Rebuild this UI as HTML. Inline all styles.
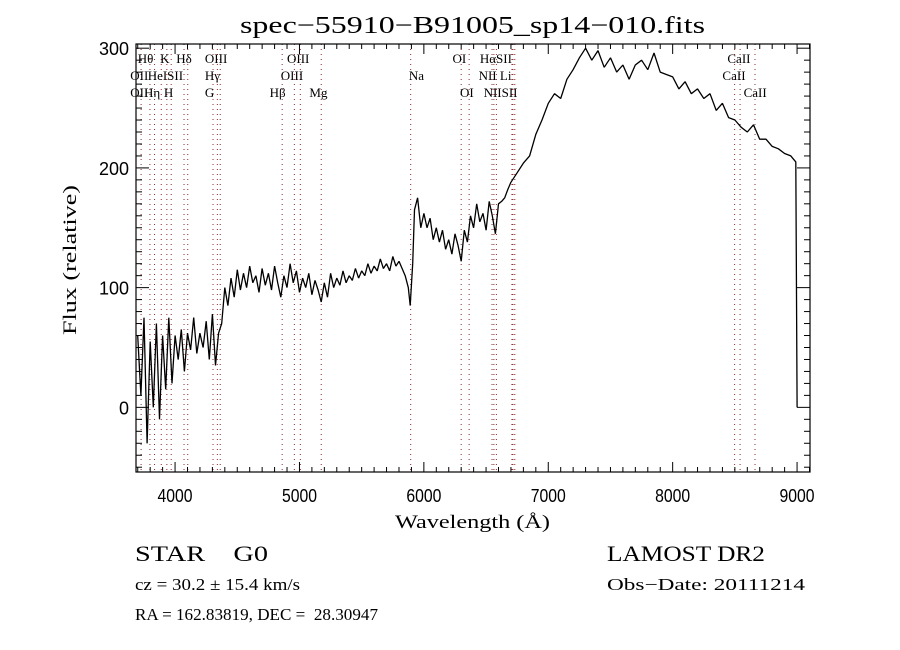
<!DOCTYPE html>
<html><head><meta charset="utf-8"><style>
body{margin:0;background:#fff;}
svg{display:block;font-family:"Liberation Serif",serif;}
svg text{white-space:pre;}
</style></head><body>
<svg id="chart" width="900" height="650" viewBox="0 0 900 650" xmlns="http://www.w3.org/2000/svg">
<rect width="900" height="650" fill="#fff"/>
<text x="240" y="33" font-size="24" textLength="465" lengthAdjust="spacingAndGlyphs">spec−55910−B91005_sp14−010.fits</text>
<text transform="translate(76,335) rotate(-90)" font-size="19" textLength="150" lengthAdjust="spacingAndGlyphs">Flux (relative)</text>
<text x="395" y="528" font-size="19" textLength="155" lengthAdjust="spacingAndGlyphs">Wavelength (Å)</text>
<text x="135" y="561" font-size="22" textLength="133" lengthAdjust="spacingAndGlyphs">STAR    G0</text>
<text x="607" y="561" font-size="22" textLength="158" lengthAdjust="spacingAndGlyphs">LAMOST DR2</text>
<text x="135" y="590" font-size="17" textLength="165" lengthAdjust="spacingAndGlyphs">cz = 30.2 ± 15.4 km/s</text>
<text x="607" y="590" font-size="17" textLength="198" lengthAdjust="spacingAndGlyphs">Obs−Date: 20111214</text>
<text x="135" y="620" font-size="17" textLength="243" lengthAdjust="spacingAndGlyphs">RA = 162.83819, DEC =  28.30947</text>
<g id="lines"></g>
<g id="ticks"></g>
<path id="spec" fill="none" stroke="#000" stroke-width="1.3" stroke-linejoin="bevel"/>
<rect x="136" y="44" width="674" height="428" fill="none" stroke="#000" stroke-width="1.2"/>
</svg>
<script>
const waves=[3700,3725,3750,3775,3800,3825,3850,3875,3900,3925,3950,3975,4000,4025,4050,4075,4100,4125,4150,4175,4200,4225,4250,4275,4300,4325,4350,4375,
4400,4425,4450,4475,4500,4525,4550,4575,4600,4625,4650,4675,4700,4725,4750,4775,4800,4825,4850,4875,4900,4925,4950,4975,5000,5025,5050,5075,5100,5125,5150,5175,5200,5225,5250,5275,5300,5325,5350,5375,5400,5425,5450,5475,5500,5525,5550,5575,5600,5625,5650,5675,5700,5725,5750,5775,5800,5825,5850,5875,5890,5910,5925,5950,5975,6000,6025,6050,6075,6100,6125,6150,6175,6200,6225,6250,6275,6300,6325,6350,6375,6400,6425,6450,6475,6500,6525,6550,6575,6600,6625,6650,6675,6700,
6750,6800,6850,6900,6950,7000,7050,7100,7150,7200,7250,7300,7350,7400,7450,7500,7550,7600,7650,7700,7750,7800,7850,7900,7950,8000,8050,8100,8150,8200,8250,8300,8350,8400,8450,8500,8550,8600,8650,8700,8750,8800,8850,8900,8950,8990,9000];
const flux=[60,10,75,-30,55,0,70,-10,60,15,75,20,60,40,65,30,62,48,75,45,62,50,72,40,78,35,62,70,
100,85,108,92,115,98,112,100,118,104,110,96,116,102,112,98,118,104,92,110,100,120,104,114,96,108,100,112,94,106,98,88,104,92,112,100,108,102,114,104,110,106,116,108,114,110,120,112,118,114,124,116,120,114,126,118,122,116,110,100,85,120,165,175,150,162,150,158,140,150,138,148,132,140,128,145,135,122,148,138,160,150,170,155,162,148,172,160,145,170,172,175,182,188,
196,204,210,228,240,254,262,258,274,282,292,300,290,298,284,292,280,286,274,286,290,282,296,280,278,276,266,272,262,266,258,262,248,254,242,240,234,230,236,224,224,218,216,212,210,205,0];
const lineWaves=[3727,3798,3835,3889,3934,3969,4072,4102,4305,4340,4363,4861,4959,5007,5175,5894,6300,6364,6548,6563,6583,6708,6716,6731,8498,8542,8662];
const labelTexts=["Hθ","K","Hδ","OIII","OIII","OI","HαSII","CaII","OII","HeISII","Hγ","OIII","Na","NII Li","CaII","OII","Hη","H","G","Hβ","Mg","OI","NIISII","CaII"];
const labelWaves=[3700,3880,4010,4240,4900,6230,6450,8440,3640,3780,4240,4850,5880,6440,8400,3640,3750,3910,4240,4760,5080,6290,6480,8570];
const labelRows=[1,1,1,1,1,1,1,1,2,2,2,2,2,2,2,3,3,3,3,3,3,3,3,3];
const xTicks=[4000,5000,6000,7000,8000,9000];
const yTicks=[0,100,200,300];
const X0=136,X1=810,Y0=472,Y1=44,WMIN=3686,WMAX=9104,FMIN=-54,FMAX=303.5;
const sx=w=>X0+(w-WMIN)/(WMAX-WMIN)*(X1-X0);
const sy=f=>Y0-(f-FMIN)/(FMAX-FMIN)*(Y0-Y1);
const NS="http://www.w3.org/2000/svg";
function mk(tag,attrs,parent){const e=document.createElementNS(NS,tag);for(const k in attrs)e.setAttribute(k,attrs[k]);parent.appendChild(e);return e;}
let d="";waves.forEach((w,i)=>{d+=(i?"L":"M")+sx(w).toFixed(1)+","+sy(flux[i]).toFixed(1);});
document.getElementById('spec').setAttribute('d',d);
const lg=document.getElementById('lines');
lineWaves.forEach(w=>{const l=mk('line',{x1:sx(w),x2:sx(w),y1:Y1,y2:Y0,stroke:'#8b2a2a','stroke-width':1,'stroke-dasharray':'1,4'},lg);

});
labelTexts.forEach((t,i)=>{const e=mk('text',{x:sx(labelWaves[i]),y:63+(labelRows[i]-1)*17,'font-size':13},lg);e.textContent=t;

});
const tg=document.getElementById('ticks');
for(let w=3700;w<=9100;w+=100){const maj=w%1000===0;const L=maj?10:5;
mk('line',{x1:sx(w),x2:sx(w),y1:Y0,y2:Y0-L,stroke:'#000'},tg);
mk('line',{x1:sx(w),x2:sx(w),y1:Y1,y2:Y1+L,stroke:'#000'},tg);}
for(let f=-50;f<=300;f+=10){const maj=f%100===0;const L=maj?13:6;
mk('line',{y1:sy(f),y2:sy(f),x1:X0,x2:X0+L,stroke:'#000'},tg);
mk('line',{y1:sy(f),y2:sy(f),x1:X1,x2:X1-L,stroke:'#000'},tg);}
xTicks.forEach(v=>{const e=mk('text',{x:sx(v),y:502,'font-size':18,'text-anchor':'middle','font-family':'Liberation Sans',textLength:35,lengthAdjust:'spacingAndGlyphs'},tg);e.textContent=v;

});
yTicks.forEach(v=>{const e=mk('text',{x:129,y:sy(v)+7,'font-size':18,'text-anchor':'end','font-family':'Liberation Sans'},tg);e.textContent=v;

});
</script>
</body></html>
